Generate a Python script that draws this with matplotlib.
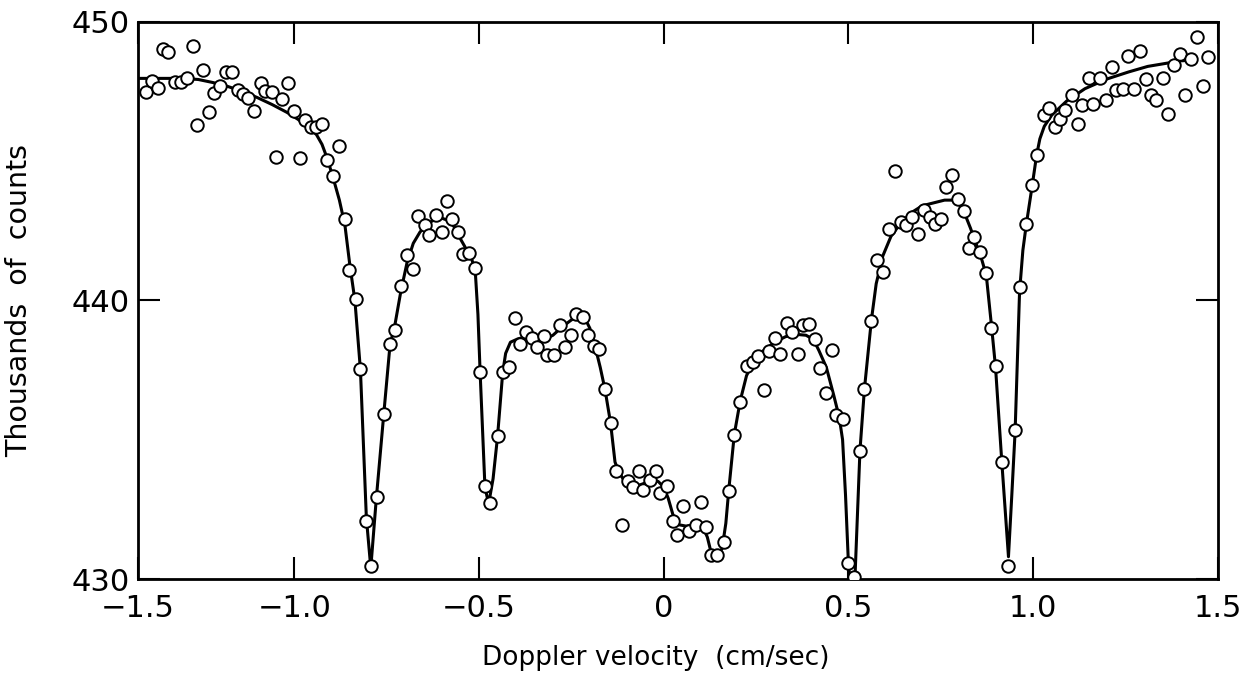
import numpy as np
import matplotlib
matplotlib.use("Agg")
import matplotlib.pyplot as plt

# measured counts (thousands) vs doppler velocity (cm/sec)
vel = [-1.401, -1.386, -1.368, -1.356, -1.341, -1.323, -1.307, -1.291, -1.275, -1.263,
       -1.248, -1.231, -1.218, -1.202, -1.186, -1.170, -1.152, -1.138, -1.125, -1.109,
       -1.091, -1.080, -1.061, -1.050, -1.032, -1.016, -1.000, -0.985, -0.971, -0.956,
       -0.940, -0.924, -0.911, -0.896, -0.879, -0.863, -0.852, -0.833, -0.821, -0.805,
       -0.792, -0.777, -0.758, -0.741, -0.728, -0.710, -0.695, -0.678, -0.665, -0.647,
       -0.635, -0.617, -0.600, -0.586, -0.574, -0.556, -0.544, -0.528, -0.511, -0.497,
       -0.484, -0.470, -0.450, -0.436, -0.419, -0.402, -0.390, -0.374, -0.356, -0.343,
       -0.325, -0.317, -0.297, -0.281, -0.266, -0.250, -0.238, -0.218, -0.204, -0.189,
       -0.174, -0.159, -0.144, -0.130, -0.114, -0.097, -0.083, -0.068, -0.056, -0.037,
       -0.021, -0.009, 0.008, 0.025, 0.037, 0.051, 0.067, 0.087, 0.100, 0.114,
       0.129, 0.145, 0.163, 0.176, 0.191, 0.207, 0.224, 0.242, 0.256, 0.270,
       0.285, 0.301, 0.315, 0.333, 0.348, 0.362, 0.377, 0.392, 0.409, 0.424,
       0.438, 0.455, 0.467, 0.486, 0.500, 0.516, 0.531, 0.543, 0.562, 0.576,
       0.593, 0.609, 0.625, 0.641, 0.657, 0.672, 0.688, 0.704, 0.720, 0.733,
       0.751, 0.765, 0.780, 0.796, 0.814, 0.826, 0.841, 0.856, 0.873, 0.887,
       0.898, 0.915, 0.933, 0.951, 0.963, 0.981, 0.997, 1.009, 1.028, 1.044,
       1.059, 1.072, 1.087, 1.105, 1.122, 1.132, 1.150, 1.162, 1.180, 1.196,
       1.214, 1.225, 1.243, 1.256, 1.274, 1.288, 1.305, 1.320, 1.332, 1.351,
       1.366, 1.380, 1.398, 1.412, 1.426, 1.443, 1.460, 1.474]
counts = [447.49, 447.88, 447.61, 449.02, 448.90, 447.83, 447.83, 447.99, 449.14, 446.29,
          448.26, 446.76, 447.44, 447.70, 448.21, 448.21, 447.57, 447.41, 447.25, 446.81,
          447.81, 447.50, 447.49, 445.16, 447.23, 447.79, 446.81, 445.13, 446.47, 446.23,
          446.21, 446.34, 445.04, 444.46, 445.55, 442.92, 441.10, 440.05, 437.54, 432.09,
          430.47, 432.93, 435.91, 438.42, 438.94, 440.51, 441.63, 441.11, 443.03, 442.71,
          442.34, 443.06, 442.46, 443.58, 442.94, 442.45, 441.66, 441.69, 441.16, 437.43,
          433.34, 432.74, 435.12, 437.43, 437.62, 439.36, 438.42, 438.87, 438.64, 438.33,
          438.72, 438.03, 438.05, 439.10, 438.34, 438.77, 439.50, 439.41, 438.77, 438.36,
          438.27, 436.83, 435.61, 433.89, 431.94, 433.51, 433.31, 433.89, 433.18, 433.55,
          433.86, 433.09, 433.35, 432.08, 431.58, 432.63, 431.72, 431.94, 432.75, 431.87,
          430.85, 430.87, 431.32, 433.17, 435.17, 436.36, 437.63, 437.79, 438.00, 436.79,
          438.17, 438.65, 438.07, 439.20, 438.87, 438.09, 439.12, 439.14, 438.62, 437.58,
          436.66, 438.22, 435.88, 435.74, 430.57, 430.07, 434.58, 436.81, 439.26, 441.45,
          441.03, 442.55, 444.65, 442.80, 442.70, 443.00, 442.40, 443.25, 443.00, 442.76,
          442.94, 444.08, 444.50, 443.63, 443.22, 441.89, 442.28, 441.75, 440.97, 439.00,
          437.63, 434.21, 430.47, 435.34, 440.49, 442.73, 444.13, 445.23, 446.64, 446.89,
          446.22, 446.50, 446.82, 447.39, 446.35, 447.00, 448.00, 447.04, 447.98, 447.19,
          448.37, 447.57, 447.58, 448.78, 447.60, 448.95, 447.95, 447.36, 447.20, 448.00,
          446.68, 448.46, 448.83, 447.38, 448.65, 449.44, 447.70, 448.72]

# fitted curve
fit_vel = [-1.423, -1.30, -1.26, -1.22, -1.18, -1.14, -1.10, -1.06, -1.02, -0.99,
           -0.96, -0.94, -0.925, -0.911, -0.896, -0.878, -0.863, -0.850, -0.836, -0.821,
           -0.805, -0.793, -0.778, -0.758, -0.741, -0.728, -0.712, -0.695, -0.678, -0.660,
           -0.640, -0.620, -0.600, -0.580, -0.565, -0.550, -0.535, -0.520, -0.510, -0.503,
           -0.497, -0.484, -0.474, -0.462, -0.450, -0.436, -0.428, -0.415, -0.395, -0.370,
           -0.345, -0.320, -0.300, -0.275, -0.250, -0.230, -0.215, -0.200, -0.185, -0.172,
           -0.159, -0.144, -0.132, -0.122, -0.108, -0.090, -0.070, -0.050, -0.030, -0.015,
           0.000, 0.012, 0.025, 0.040, 0.060, 0.085, 0.105, 0.118, 0.130, 0.147,
           0.158, 0.168, 0.176, 0.191, 0.207, 0.224, 0.245, 0.270, 0.300, 0.330,
           0.360, 0.385, 0.405, 0.420, 0.440, 0.460, 0.475, 0.484, 0.492, 0.500,
           0.508, 0.518, 0.531, 0.543, 0.562, 0.575, 0.593, 0.615, 0.640, 0.670,
           0.700, 0.730, 0.760, 0.785, 0.800, 0.815, 0.830, 0.845, 0.860, 0.873,
           0.887, 0.898, 0.915, 0.925, 0.933, 0.942, 0.951, 0.963, 0.972, 0.981,
           0.997, 1.009, 1.018, 1.030, 1.050, 1.090, 1.140, 1.200, 1.258, 1.310,
           1.355, 1.400, 1.425]
fit_counts = [447.97, 447.97, 447.93, 447.82, 447.68, 447.50, 447.28, 447.03, 446.75, 446.50,
              446.20, 445.95, 445.60, 445.10, 444.45, 443.60, 442.70, 441.30, 440.00, 437.50,
              432.20, 430.40, 432.90, 435.90, 438.40, 439.10, 440.30, 441.35, 442.05, 442.45,
              442.75, 442.90, 442.95, 442.85, 442.60, 442.20, 441.85, 441.50, 441.00, 439.50,
              437.40, 433.30, 432.70, 433.60, 435.10, 437.40, 438.10, 438.50, 438.62, 438.70,
              438.65, 438.62, 438.75, 439.05, 439.30, 439.45, 439.40, 439.00, 438.30, 437.60,
              436.80, 435.60, 434.20, 433.85, 433.55, 433.35, 433.35, 433.45, 433.55, 433.50,
              433.30, 432.90, 432.30, 431.95, 431.90, 431.95, 431.90, 431.50, 430.85, 430.85,
              431.10, 432.00, 433.20, 435.20, 436.40, 437.30, 437.85, 438.20, 438.50, 438.70,
              438.78, 438.75, 438.60, 438.20, 437.60, 436.60, 435.80, 435.00, 433.00, 430.50,
              429.50, 430.20, 434.60, 436.80, 439.30, 440.60, 441.60, 442.30, 442.75, 443.15,
              443.40, 443.50, 443.60, 443.60, 443.45, 443.10, 442.60, 442.05, 441.50, 440.90,
              439.10, 437.60, 434.20, 432.30, 430.80, 433.00, 435.30, 440.30, 441.80, 442.70,
              444.10, 445.20, 445.80, 446.25, 446.65, 447.15, 447.60, 447.95, 448.20, 448.40,
              448.50, 448.60, 448.62]

xticks = [-1.0, -0.5, 0, 0.5, 1.0, 1.5]
xticklabels = ['\u22121.0', '\u22120.5', '0', '0.5', '1.0', '1.5']
yticks = [430, 440, 450]

x_left = -1.423  # the drawing's left edge, marked -1.5 in the original

fig = plt.figure(figsize=(12.56, 6.82), dpi=100)
ax = fig.add_axes([0.1099, 0.151, 0.8598, 0.817])

ax.plot(fit_vel, fit_counts, color='black', lw=2.2, zorder=2)
ax.plot(vel, counts, 'o', ms=9, mfc='white', mec='black', mew=1.4, zorder=3)

ax.set_xlim(x_left, 1.5)
ax.set_ylim(430, 450)
ax.set_xticks([x_left] + xticks)
ax.set_xticklabels(['\u22121.5'] + xticklabels)
ax.set_yticks(yticks)

for s in ax.spines.values():
    s.set_linewidth(2.0)

ax.tick_params(axis='both', direction='in', top=True, right=True,
               length=16, width=1.5, labelsize=22, colors='black')
ax.tick_params(axis='x', pad=11)
ax.tick_params(axis='y', pad=6)

ax.set_xlabel('Doppler velocity  (cm/sec)', fontsize=19)
ax.set_ylabel('Thousands  of  counts', fontsize=20.5)
ax.xaxis.set_label_coords(0.479, -0.118)
ax.yaxis.set_label_coords(-0.097, 0.5)

fig.savefig('out.png', dpi=100, facecolor='white')
